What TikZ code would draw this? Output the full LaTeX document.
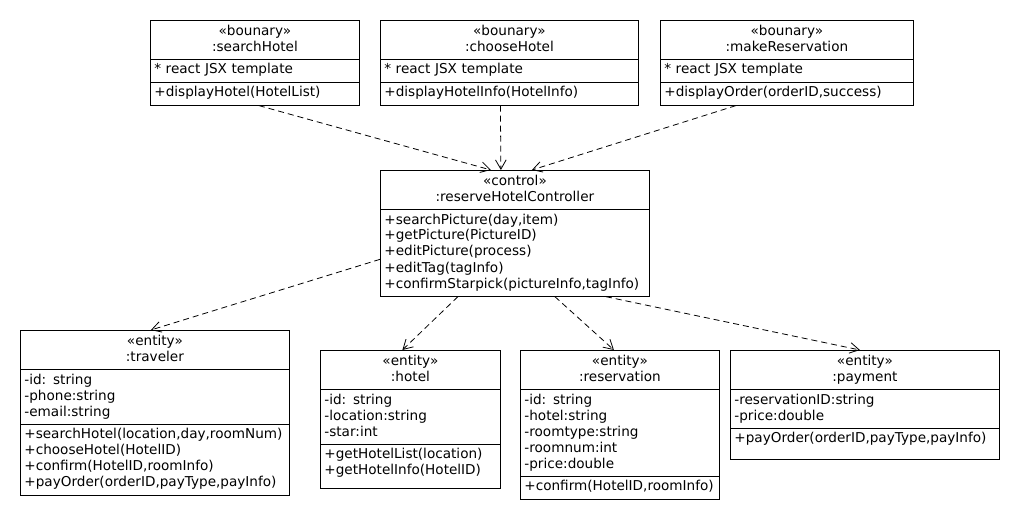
\documentclass[tikz,border=0pt]{standalone}
\usepackage{fontspec}
\setmainfont{DejaVu Sans}
\usetikzlibrary{shapes.multipart,calc,arrows.meta}
\newcommand{\cpt}[1]{\strut#1\strut}
\newcommand{\chead}[2]{\centering\strut#1\\#2\strut\par}

\begin{document}
\begin{tikzpicture}[x=0.75pt,y=-0.75pt,
  cls/.style={draw,rectangle split,rectangle split parts=3,anchor=north west,
    inner xsep=3pt,inner ysep=2.3pt,line width=0.6pt,
    font=\fontsize{10.2}{12}\selectfont},
  cw/.style={text width=0.75*#1-6},
  dep/.style={dash pattern=on 4.5pt off 3pt,line width=0.6pt,
    -{Straight Barb[length=7pt,width=8pt]}}]
 \useasboundingbox (0,0) rectangle (1020,520);
    % boundary classes
    \node[cls,cw=209] (search) at (150,20) {\chead{«bounary»}{:searchHotel}
      \nodepart{two}\cpt{* react JSX template}
      \nodepart{three}\cpt{+displayHotel(HotelList)}};
    \node[cls,cw=258] (choose) at (380,20) {\chead{«bounary»}{:chooseHotel}
      \nodepart{two}\cpt{* react JSX template}
      \nodepart{three}\cpt{+displayHotelInfo(HotelInfo)}};
    \node[cls,cw=253] (makeres) at (660,20) {\chead{«bounary»}{:makeReservation}
      \nodepart{two}\cpt{* react JSX template}
      \nodepart{three}\cpt{+displayOrder(orderID,success)}};
    % control class
    \node[cls,cw=269,rectangle split parts=2] (ctrl) at (380,170)
      {\chead{«control»}{:reserveHotelController}
      \nodepart{two}\cpt{+searchPicture(day,item)\\+getPicture(PictureID)\\
        +editPicture(process)\\+editTag(tagInfo)\\+confirmStarpick(pictureInfo,tagInfo)}};
    % entity classes
    \node[cls,cw=269] (traveler) at (20,330) {\chead{«entity»}{:traveler}
      \nodepart{two}\cpt{-id: string\\-phone:string\\-email:string}
      \nodepart{three}\cpt{+searchHotel(location,day,roomNum)\\+chooseHotel(HotelID)\\
        +confirm(HotelID,roomInfo)\\+payOrder(orderID,payType,payInfo)}};
    \node[cls,cw=180] (hotel) at (320,350) {\chead{«entity»}{:hotel}
      \nodepart{two}\cpt{-id: string\\-location:string\\-star:int}
      \nodepart{three}\cpt{+getHotelList(location)\\+getHotelInfo(HotelID)}\\[-8pt]\strut};
    \node[cls,cw=199] (reservation) at (520,350) {\chead{«entity»}{:reservation}
      \nodepart{two}\cpt{-id: string\\-hotel:string\\-roomtype:string\\-roomnum:int\\-price:double}
      \nodepart{three}\cpt{+confirm(HotelID,roomInfo)}};
    \node[cls,cw=269] (payment) at (730,350) {\chead{«entity»}{:payment}
      \nodepart{two}\cpt{-reservationID:string\\-price:double}
      \nodepart{three}\cpt{+payOrder(orderID,payType,payInfo)}\\[-6pt]\strut};
    % dependencies
    \foreach \n/\s/\t in {search/4/-24,choose/-9/-14,makeres/-51/17}
      \draw[dep] ($(\n.south)+(\s,0)$) -- ($(ctrl.north)+(\t,0)$);
    \draw[dep] ($(ctrl.west)+(0,26)$) -- ($(traveler.north)+(-4,0)$);
    \foreach \n/\s/\t in {hotel/-57/-8,reservation/40/-6,payment/91/-5}
      \draw[dep] ($(ctrl.south)+(\s,0)$) -- ($(\n.north)+(\t,0)$);
  \end{tikzpicture}
\end{document}
